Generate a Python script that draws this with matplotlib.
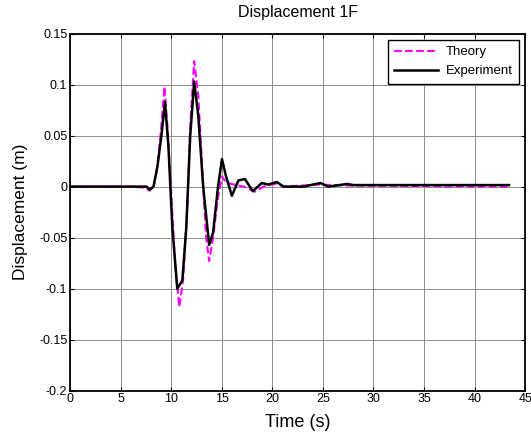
import matplotlib as mpl
mpl.use('Agg')
import matplotlib.pyplot as plt

plt.rcParams['font.family'] = ['Liberation Sans', 'DejaVu Sans']

# theory (dashed magenta)
t_theory = [0, 5.9, 7.37, 7.86, 8.25, 8.64, 9.03, 9.33, 9.62, 10.02, 10.41,
            10.8, 11.19, 11.59, 11.88, 12.27, 12.67, 13.06, 13.45, 13.75,
            14.14, 14.63, 15.02, 15.42, 16.2, 17.18, 18.27, 19.15, 20.43,
            21.11, 24.55, 27.5, 43.4]
y_theory = [0, 0, -0.001, -0.004, 0.0, 0.02, 0.06, 0.098, 0.06, -0.01, -0.08,
            -0.118, -0.09, -0.02, 0.06, 0.123, 0.09, 0.02, -0.05, -0.073, -0.05,
            -0.01, 0.01, 0.004, 0.002, 0.0, -0.005, 0.0, 0.003, 0.0, 0.002,
            0.001, 0.0]

# experiment (solid black)
t_exp = [0, 7.56, 7.86, 8.25, 8.64, 9.03, 9.38, 9.72, 10.11, 10.6, 11.1, 11.49,
         11.88, 12.27, 12.67, 13.16, 13.75, 14.14, 14.63, 15.02, 15.42, 16.0,
         16.64, 17.28, 18.07, 18.95, 19.59, 20.43, 21.11, 23.08, 24.75, 25.53,
         27.4, 27.99, 43.4]
y_exp = [0, 0, -0.003, 0.0, 0.02, 0.05, 0.083, 0.04, -0.04, -0.100, -0.092,
         -0.04, 0.05, 0.103, 0.07, 0.0, -0.057, -0.045, 0.0, 0.027, 0.01,
         -0.009, 0.006, 0.0075, -0.0045, 0.0035, 0.002, 0.0045, 0.0, 0.0,
         0.0035, 0.0, 0.0026, 0.0015, 0.0015]

fig = plt.figure(figsize=(5.31, 4.36), dpi=100)
ax = fig.add_axes([0.132, 0.104, 0.857, 0.819])

ax.plot(t_theory, y_theory, color='magenta', linestyle='--', linewidth=1.5,
        label='Theory')
ax.plot(t_exp, y_exp, color='black', linewidth=1.8, label='Experiment')

ax.set_xlim(0, 45)
ax.set_ylim(-0.2, 0.15)
ax.set_xticks(range(0, 46, 5))
ax.set_yticks([-0.2, -0.15, -0.1, -0.05, 0, 0.05, 0.1, 0.15])
ax.set_yticklabels(['-0.2', '-0.15', '-0.1', '-0.05', '0', '0.05', '0.1', '0.15'])
ax.tick_params(direction='in', top=True, right=True, labelsize=9, length=3, pad=2)
ax.grid(True, color='0.55', linewidth=0.7)
for s in ax.spines.values():
    s.set_linewidth(1.3)

ax.set_title('Displacement 1F', fontsize=11.5, pad=12)
ax.set_xlabel('Time (s)', fontsize=13, labelpad=6)
ax.set_ylabel('Displacement (m)', fontsize=12.5, labelpad=8)

leg = ax.legend(loc='upper right', fontsize=9.5, fancybox=False, framealpha=1,
                edgecolor='black', borderaxespad=0.45, handlelength=3.3,
                labelspacing=0.5, borderpad=0.5, handletextpad=0.6)
leg.get_frame().set_linewidth(1.0)

fig.savefig('out.png')
plt.close()
